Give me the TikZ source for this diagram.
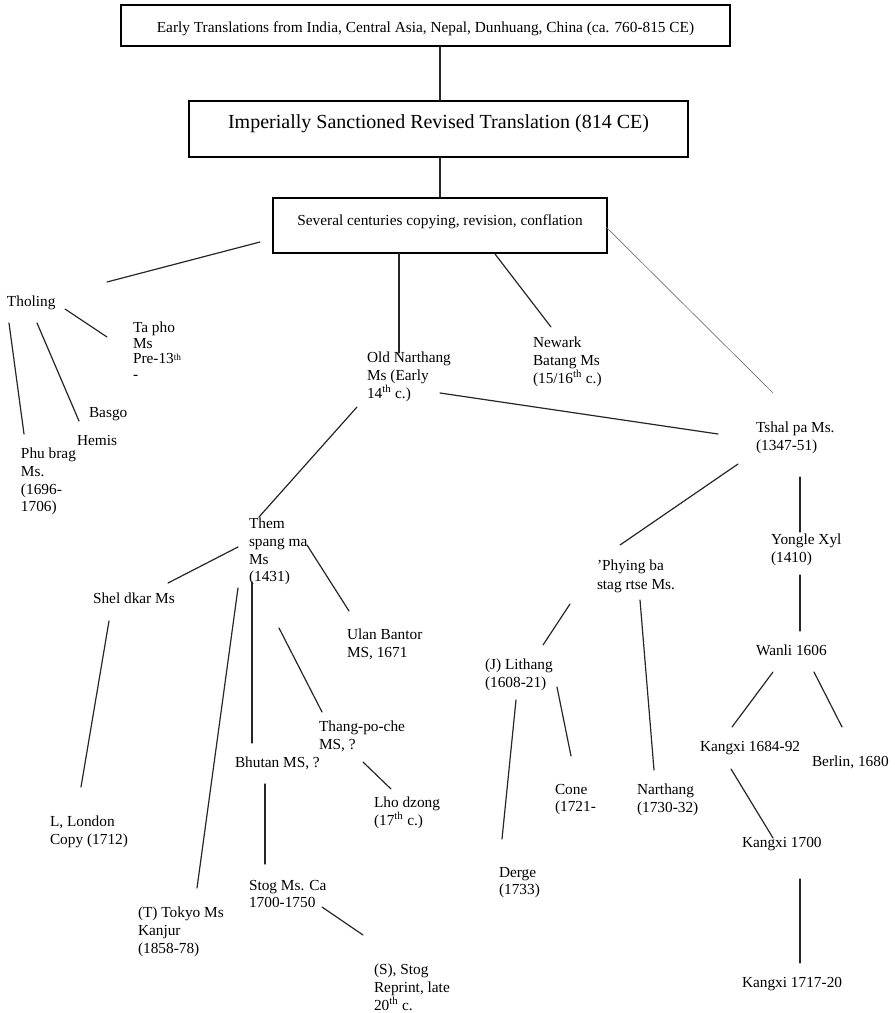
\documentclass[tikz,border=0pt]{standalone}
\usepackage{fontspec}
\setmainfont{Liberation Serif}
\begin{document}
\begin{tikzpicture}[x=0.75pt,y=-0.75pt,
  lbl/.style={anchor=north west, inner sep=0pt, outer sep=0pt, align=left, font=\fontsize{11.5}{13.3}\selectfont},
  conn/.style={line width=0.9pt, black!85, line cap=round},
  thinconn/.style={line width=0.5pt, black!55},
  box/.style={draw, line width=0.9pt, inner sep=0pt, align=center}]
\useasboundingbox (0,0) rectangle (895,1013);
% boxes
\node[box, minimum width=456.75pt, minimum height=30.75pt, text height=11pt, text depth=1.2pt, font=\fontsize{11.5}{13.3}\selectfont] (b1) at (425.5,25.5) {Early Translations from India, Central Asia, Nepal, Dunhuang, China (ca. 760-815 CE)};
\node[box, minimum width=374.25pt, minimum height=42pt, text height=10.5pt, text depth=11pt, font=\fontsize{15}{18}\selectfont] (b2) at (438.5,129) {Imperially Sanctioned Revised Translation (814 CE)};
\node[box, minimum width=250.5pt, minimum height=41.25pt, text height=8pt, text depth=8pt, font=\fontsize{11.5}{13.3}\selectfont] (b3) at (440,225.5) {Several centuries copying, revision, conflation};
% labels
\node[lbl] (tholing) at (7,296) {Tholing};
\node[lbl, font=\fontsize{11.5}{11.6}\selectfont] (tapho) at (133,322) {Ta pho\\Ms\\Pre-13\raisebox{0.22em}{\fontsize{7}{8}\selectfont th}\\-};
\node[lbl] (basgo) at (89,407) {Basgo};
\node[lbl] (hemis) at (77,435) {Hemis};
\node[lbl] (phubrag) at (21,448) {Phu brag\\Ms.\\(1696-\\1706)};
\node[lbl] (oldnar) at (367,352) {Old Narthang\\Ms (Early\\14\textsuperscript{th} c.)};
\node[lbl] (newark) at (533,337) {Newark\\Batang Ms\\(15/16\textsuperscript{th} c.)};
\node[lbl] (tshal) at (756,422) {Tshal pa Ms.\\(1347-51)};
\node[lbl] (them) at (249,518) {Them\\spang ma\\Ms\\(1431)};
\node[lbl] (shel) at (93,593) {Shel dkar Ms};
\node[lbl] (ulan) at (347,629) {Ulan Bantor\\MS, 1671};
\node[lbl] (thang) at (319,721) {Thang-po-che\\MS, ?};
\node[lbl] (bhutan) at (235,757) {Bhutan MS, ?};
\node[lbl] (lho) at (374,797) {Lho dzong\\(17\textsuperscript{th} c.)};
\node[lbl] (london) at (50,816) {L, London\\Copy (1712)};
\node[lbl] (stog) at (249,880) {Stog Ms. Ca\\1700-1750};
\node[lbl] (tokyo) at (138,907) {(T) Tokyo Ms\\Kanjur\\(1858-78)};
\node[lbl] (sstog) at (374,964) {(S), Stog\\Reprint, late\\20\textsuperscript{th} c.};
\node[lbl, font=\fontsize{11.5}{14.2}\selectfont] (phying) at (597,560) {’Phying ba\\stag rtse Ms.};
\node[lbl] (lithang) at (485,659) {(J) Lithang\\(1608-21)};
\node[lbl] (cone) at (555,784) {Cone\\(1721-};
\node[lbl] (narthang) at (637,784) {Narthang\\(1730-32)};
\node[lbl] (derge) at (499,867) {Derge\\(1733)};
\node[lbl] (yongle) at (771,534) {Yongle Xyl\\(1410)};
\node[lbl] (wanli) at (756,645) {Wanli 1606};
\node[lbl] (kx1684) at (700,741) {Kangxi 1684-92};
\node[lbl] (berlin) at (812,756) {Berlin, 1680};
\node[lbl] (kx1700) at (742,837) {Kangxi 1700};
\node[lbl] (kx1717) at (742,977) {Kangxi 1717-20};
% connector end points
\coordinate (v) at (440,0);
\coordinate (c3a) at (260,242); \coordinate (c3b) at (107,282);
\coordinate (c4a) at (65,309);  \coordinate (c4b) at (107,337);
\coordinate (c5a) at (37,323);  \coordinate (c5b) at (79,421);
\coordinate (c6a) at (9,323);   \coordinate (c6b) at (24,434);
\coordinate (c7a) at (399,253); \coordinate (c7b) at (399,353);
\coordinate (c8a) at (495,254); \coordinate (c8b) at (551,327);
\coordinate (c9a) at (606,227); \coordinate (c9b) at (773,393);
\coordinate (c10a) at (440,393); \coordinate (c10b) at (718,434);
\coordinate (c11a) at (357,407); \coordinate (c11b) at (259,517);
\coordinate (c12a) at (738,464); \coordinate (c12b) at (620,545);
\coordinate (c13a) at (800,477); \coordinate (c13b) at (800,532);
\coordinate (c14a) at (238,547); \coordinate (c14b) at (168,583);
\coordinate (c15a) at (307,545); \coordinate (c15b) at (349,611);
\coordinate (c16a) at (238,588); \coordinate (c16b) at (197,888);
\coordinate (c17a) at (252,582); \coordinate (c17b) at (252,743);
\coordinate (c18a) at (279,628); \coordinate (c18b) at (322,712);
\coordinate (c19a) at (109,621); \coordinate (c19b) at (81,787);
\coordinate (c20a) at (363,762); \coordinate (c20b) at (391,789);
\coordinate (c21a) at (265,784); \coordinate (c21b) at (265,864);
\coordinate (c22a) at (322,907); \coordinate (c22b) at (363,935);
\coordinate (c23a) at (570,604); \coordinate (c23b) at (543,645);
\coordinate (c24a) at (640,600); \coordinate (c24b) at (654,770);
\coordinate (c25a) at (516,700); \coordinate (c25b) at (502,839);
\coordinate (c26a) at (557,687); \coordinate (c26b) at (571,756);
\coordinate (c27a) at (800,575); \coordinate (c27b) at (800,631);
\coordinate (c28a) at (773,672); \coordinate (c28b) at (732,727);
\coordinate (c29a) at (814,672); \coordinate (c29b) at (842,727);
\coordinate (c30a) at (731,769); \coordinate (c30b) at (773,838);
\coordinate (c31a) at (800,879); \coordinate (c31b) at (800,963);
% connectors
\draw[conn] (b1.south -| v) -- (b2.north -| v);
\draw[conn] (b2.south -| v) -- (b3.north -| v);
\foreach \i in {3,4,5,6,7,8,10,11,12,13,14,15,16,17,18,19,20,21,22,23,24,25,26,27,28,29,30,31}
  \draw[conn] (c\i a) -- (c\i b);
\draw[thinconn] (c9a) -- (c9b);
\end{tikzpicture}
\end{document}
